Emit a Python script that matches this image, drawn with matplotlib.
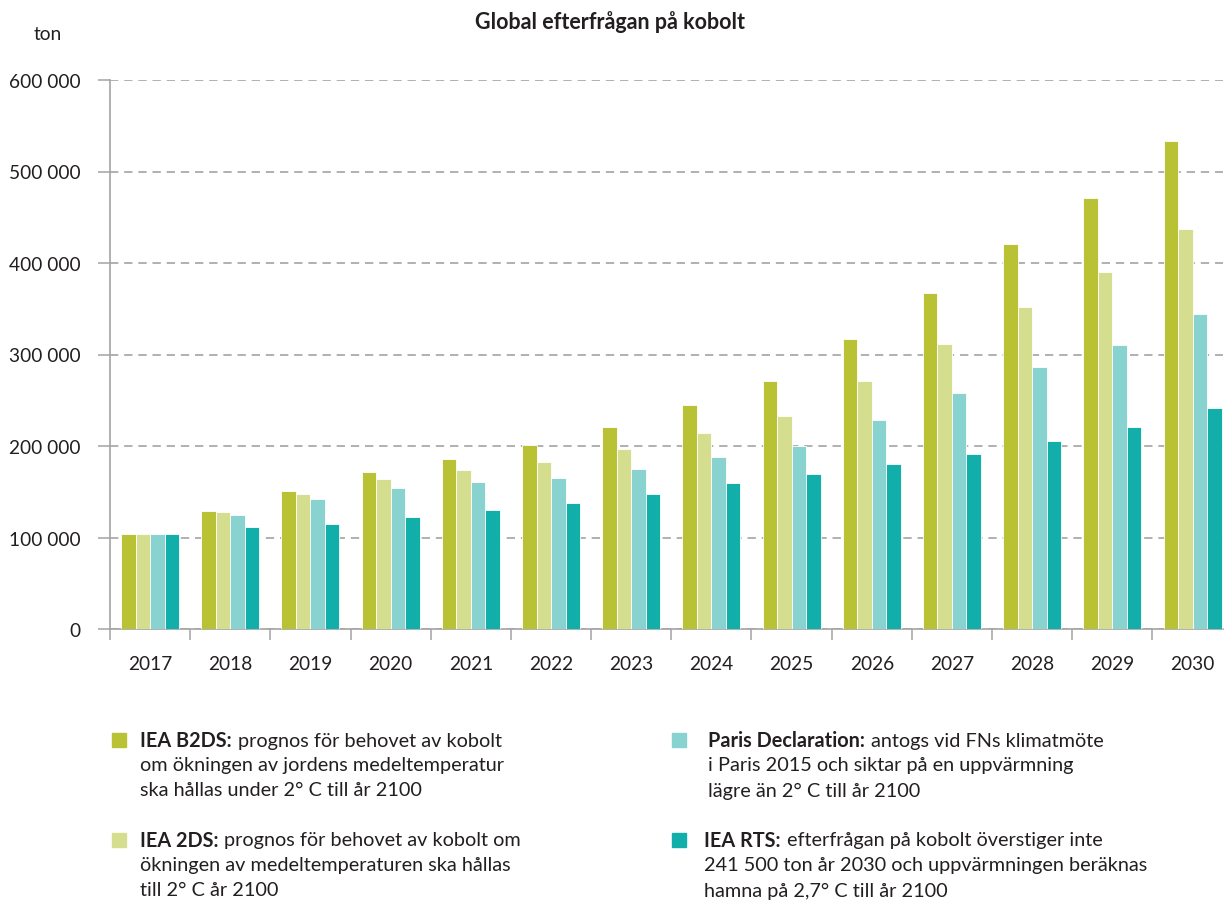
import numpy as np
import matplotlib
matplotlib.use("Agg")
import matplotlib.pyplot as plt
from matplotlib.ticker import FixedLocator, FuncFormatter

plt.rcParams['font.family'] = ['Lato', 'DejaVu Sans']

years = ['2017', '2018', '2019', '2020', '2021', '2022', '2023',
         '2024', '2025', '2026', '2027', '2028', '2029', '2030']

b2ds = [104000, 129000, 151000, 172000, 186000, 201000, 221000,
        245000, 271000, 317000, 367000, 421000, 471000, 533000]
two_ds = [104000, 128000, 148000, 164000, 174000, 183000, 197000,
          214000, 233000, 271000, 311000, 352000, 390000, 437000]
paris = [104000, 125000, 142000, 154000, 161000, 165000, 175000,
         188000, 200000, 228000, 258000, 286000, 310000, 344000]
rts = [104000, 112000, 115000, 122000, 130000, 138000, 148000,
       160000, 169000, 180000, 191000, 206000, 221000, 241500]

series = [b2ds, two_ds, paris, rts]
colors = ['#b9c234', '#d5de8f', '#88d2cf', '#11aeaa']

W, H = 1224, 903
TXT = '#231f20'
GRAY = '#a3a3a3'
FS = 13.8   # axis text
LFS = 14.3  # legend text

fig = plt.figure(figsize=(W / 100, H / 100), dpi=100)
ax = fig.add_axes([110 / W, (H - 630) / H, (1223 - 110) / W, (630 - 81) / H])

x = np.arange(len(years))
bw = 0.181
for i, (vals, c) in enumerate(zip(series, colors)):
    ax.bar(x + (i - 1.5) * bw, vals, bw, color=c, edgecolor='white',
           linewidth=0.6, zorder=3)

ax.set_xlim(-0.5, 13.38)
ax.set_ylim(0, 600000)

# y axis: gridlines every 100 000, dashed
ax.set_yticks(np.arange(0, 600001, 100000))
ax.yaxis.set_major_formatter(FuncFormatter(lambda v, p: f"{v:,.0f}".replace(",", " ")))
ax.grid(axis='y', color=GRAY, linestyle=(0, (5, 3.5)), linewidth=1.2, zorder=0)
ax.tick_params(axis='y', length=9, width=1.1, color=GRAY, pad=12.5,
               labelsize=FS, labelcolor=TXT)

# x axis: ticks between groups, labels centered under groups
ax.xaxis.set_major_locator(FixedLocator(np.arange(-0.5, 13.5, 1.0)))
ax.xaxis.set_major_formatter(FuncFormatter(lambda v, p: ''))
ax.xaxis.set_minor_locator(FixedLocator(x))
ax.set_xticklabels(years, minor=True)
ax.tick_params(axis='x', which='major', length=8, width=1.1, color=GRAY)
ax.tick_params(axis='x', which='minor', length=0, pad=19,
               labelsize=FS, labelcolor=TXT)

for side in ['top', 'right']:
    ax.spines[side].set_visible(False)
for side in ['left', 'bottom']:
    ax.spines[side].set_color(GRAY)
    ax.spines[side].set_linewidth(1.2)

fig.text(610 / W, 1 - 22 / H, 'Global efterfrågan på kobolt', ha='center',
         va='center', fontsize=15.5, fontweight='bold', color=TXT)
fig.text(48 / W, 1 - 35 / H, 'ton', ha='center', va='center',
         fontsize=FS, color=TXT)

# legend written out by hand: colored square, bold lead-in, wrapped text
legend_items = [
    (112, 140, 741, colors[0], 'IEA B2DS:',
     ['prognos för behovet av kobolt',
      'om ökningen av jordens medeltemperatur',
      'ska hållas under 2° C till år 2100']),
    (112, 140, 841, colors[1], 'IEA 2DS:',
     ['prognos för behovet av kobolt om',
      'ökningen av medeltemperaturen ska hållas',
      'till 2° C år 2100']),
    (672, 708, 741, colors[2], 'Paris Declaration:',
     ['antogs vid FNs klimatmöte',
      'i Paris 2015 och siktar på en uppvärmning',
      'lägre än 2° C till år 2100']),
    (672, 704, 841, colors[3], 'IEA RTS:',
     ['efterfrågan på kobolt överstiger inte',
      '241 500 ton år 2030 och uppvärmningen beräknas',
      'hamna på 2,7° C till år 2100']),
]

renderer = fig.canvas.get_renderer()
for sx, tx, ty, c, bold, lines in legend_items:
    fig.patches.append(plt.Rectangle((sx / W, 1 - (ty + 7) / H), 14 / W, 14 / H,
                                     transform=fig.transFigure, color=c))
    t = fig.text(tx / W, 1 - ty / H, bold, fontweight='bold', fontsize=LFS,
                 color=TXT, va='center')
    bb = t.get_window_extent(renderer)
    fig.text((bb.x1 + 6) / W, 1 - ty / H, lines[0], fontsize=LFS,
             color=TXT, va='center')
    for k, line in enumerate(lines[1:], start=1):
        fig.text(tx / W, 1 - (ty + 25 * k) / H, line, fontsize=LFS,
                 color=TXT, va='center')

fig.savefig('out.png', dpi=100)
